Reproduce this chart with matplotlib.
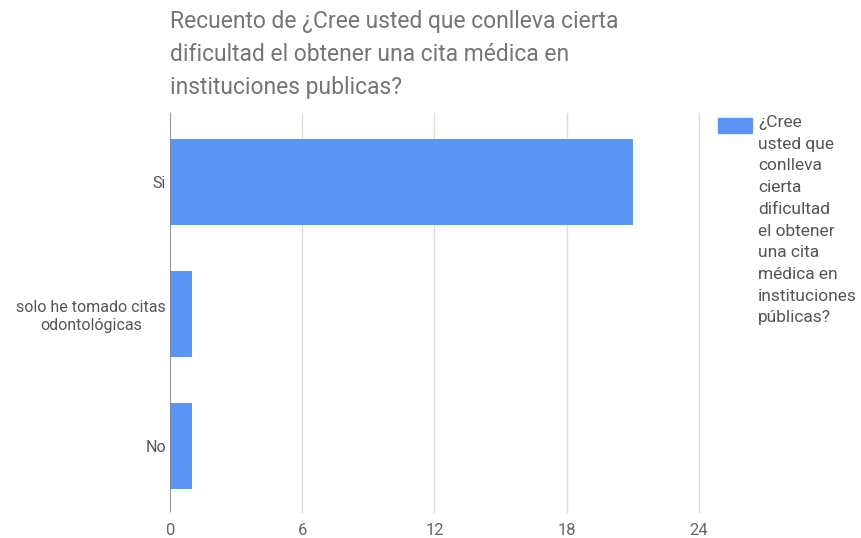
import matplotlib
matplotlib.use('agg')
import matplotlib.pyplot as plt

plt.rcParams['font.family'] = ['Roboto', 'DejaVu Sans']

categories = ['Si', 'solo he tomado citas\nodontológicas', 'No']
counts = [21, 1, 1]
x_ticks = [0, 6, 12, 18, 24]

title = ('Recuento de ¿Cree usted que conlleva cierta\n'
         'dificultad el obtener una cita médica en\n'
         'instituciones publicas?')
legend_label = ('¿Cree\nusted que\nconlleva\ncierta\ndificultad\nel obtener\n'
                'una cita\nmédica en\ninstituciones\npúblicas?')

bar_color = '#5b96f7'

fig = plt.figure(figsize=(8.62, 5.38), dpi=100)
ax = fig.add_axes([170 / 862, 26 / 538, 529 / 862, 399 / 538])

ax.barh(range(len(categories)), counts, height=0.65, color=bar_color, zorder=3)
ax.set_ylim(2.5, -0.52)
ax.set_xlim(0, 24)
ax.set_xticks(x_ticks)
ax.set_xticklabels([str(t) for t in x_ticks])
ax.set_yticks(range(len(categories)))
ax.set_yticklabels(categories, fontsize=11.5, color='#555555',
                   multialignment='center')

ax.grid(axis='x', color='#dddddd', linewidth=1, zorder=0)
for gl in ax.get_xgridlines():
    gl.set_clip_on(False)
ax.axvline(0, color='#888888', linewidth=1.2, zorder=4)
for s in ax.spines.values():
    s.set_visible(False)
ax.tick_params(axis='both', length=0)
ax.tick_params(axis='x', labelsize=12, labelcolor='#666666', pad=8)
ax.tick_params(axis='y', pad=3)

fig.text(170 / 862, 1 - 10 / 538, title, fontsize=16.5, color='#757575',
         va='top', ha='left', linespacing=1.55)

# legend drawn by hand to match the wrapped label
fig.patches.append(plt.Rectangle((718 / 862, 1 - 133 / 538), 34 / 862, 15 / 538,
                                 transform=fig.transFigure, color=bar_color))
fig.text(758 / 862, 1 - 115 / 538, legend_label, fontsize=12.5, color='#555555',
         va='top', ha='left', linespacing=1.56)

fig.savefig('out.png', dpi=100)
